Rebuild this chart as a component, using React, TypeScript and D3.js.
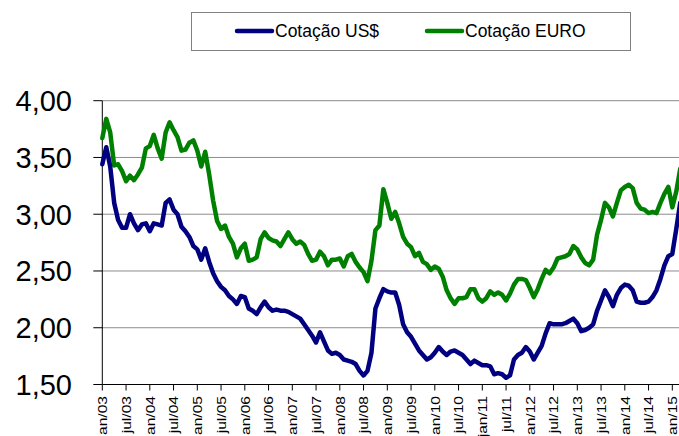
import { useRef, useEffect } from 'react';
import * as d3 from 'd3';

// ---------------------------------------------------------------------------
// Data (monthly, jan/03 .. mar/15)
// ---------------------------------------------------------------------------
const USD = [
  3.44, 3.59, 3.42, 3.10, 2.95, 2.88, 2.88, 3.00, 2.92, 2.86, 2.91, 2.92,
  2.85, 2.92, 2.91, 2.90, 3.10, 3.13, 3.04, 3.00, 2.89, 2.85, 2.80, 2.72,
  2.69, 2.60, 2.70, 2.58, 2.48, 2.41, 2.36, 2.33, 2.28, 2.25, 2.21, 2.28,
  2.27, 2.17, 2.15, 2.12, 2.18, 2.23, 2.18, 2.15, 2.16, 2.15, 2.15, 2.14,
  2.12, 2.10, 2.08, 2.03, 1.98, 1.93, 1.87, 1.96, 1.88, 1.80, 1.77, 1.78,
  1.76, 1.72, 1.71, 1.70, 1.68, 1.62, 1.58, 1.62, 1.78, 2.17, 2.26, 2.34,
  2.32, 2.31, 2.31, 2.20, 2.03, 1.96, 1.92, 1.86, 1.80, 1.76, 1.72, 1.74,
  1.78, 1.83, 1.79, 1.76, 1.79, 1.80, 1.78, 1.76, 1.72, 1.68, 1.71, 1.69,
  1.67, 1.67, 1.66, 1.59, 1.60, 1.59, 1.56, 1.58, 1.72, 1.76, 1.78, 1.83,
  1.79, 1.72, 1.78, 1.84, 1.95, 2.04, 2.03, 2.03, 2.03, 2.04, 2.06, 2.08,
  2.04, 1.97, 1.98, 2.00, 2.03, 2.15, 2.24, 2.33, 2.27, 2.19, 2.29, 2.35,
  2.38, 2.37, 2.33, 2.23, 2.22, 2.22, 2.23, 2.27, 2.33, 2.43, 2.55, 2.63,
  2.65, 2.87, 3.10,
];

const EURO = [
  3.67, 3.84, 3.72, 3.43, 3.44, 3.38, 3.29, 3.34, 3.30, 3.35, 3.41, 3.58,
  3.60, 3.70, 3.58, 3.49, 3.72, 3.81, 3.74, 3.68, 3.56, 3.57, 3.63, 3.65,
  3.56, 3.42, 3.55, 3.35, 3.12, 2.94, 2.87, 2.90, 2.80, 2.74, 2.62, 2.70,
  2.74, 2.59, 2.60, 2.62, 2.78, 2.84, 2.79, 2.77, 2.76, 2.72, 2.78, 2.84,
  2.78, 2.74, 2.76, 2.73, 2.65, 2.59, 2.60, 2.67, 2.63, 2.55, 2.60, 2.60,
  2.61, 2.54, 2.63, 2.65, 2.58, 2.53, 2.49, 2.41, 2.59, 2.86, 2.90, 3.22,
  3.10, 2.96, 3.02, 2.92, 2.80, 2.74, 2.71, 2.63, 2.66, 2.58, 2.56, 2.51,
  2.54, 2.52, 2.45, 2.33, 2.26, 2.21, 2.26, 2.26, 2.27, 2.34, 2.34, 2.26,
  2.23, 2.26, 2.32, 2.29, 2.31, 2.29, 2.24, 2.30, 2.38, 2.43, 2.43, 2.42,
  2.35, 2.27, 2.34, 2.43, 2.51, 2.48, 2.53, 2.61, 2.62, 2.63, 2.65, 2.72,
  2.69, 2.62, 2.57, 2.55, 2.60, 2.82, 2.95, 3.10, 3.06, 2.98, 3.10, 3.21,
  3.24, 3.26, 3.23, 3.10, 3.05, 3.04, 3.01, 3.02, 3.01, 3.10, 3.18, 3.24,
  3.06, 3.20, 3.40,
];

const X_LABELS = [
  'jan/03', 'jul/03', 'jan/04', 'jul/04', 'jan/05', 'jul/05', 'jan/06', 'jul/06',
  'jan/07', 'jul/07', 'jan/08', 'jul/08', 'jan/09', 'jul/09', 'jan/10', 'jul/10',
  'jan/11', 'jul/11', 'jan/12', 'jul/12', 'jan/13', 'jul/13', 'jan/14', 'jul/14',
  'jan/15',
];

const Y_TICKS = [1.5, 2.0, 2.5, 3.0, 3.5, 4.0];

const SERIES = [
  { name: 'Cotação US$', values: USD, color: '#000080' },
  { name: 'Cotação EURO', values: EURO, color: '#008000' },
];

const W = 679;
const H = 436;
const FONT = '"Liberation Sans", Arial, sans-serif';

export default function App() {
  const svgRef = useRef<SVGSVGElement>(null);

  useEffect(() => {
    document.body.style.margin = '0';
    const svg = svgRef.current;
    if (!svg) return;
    const sel = d3.select(svg);
    sel.selectAll('*').remove();

    const x = d3.scaleLinear().domain([0, 144]).range([102.3, 672.3]);
    const y = d3.scaleLinear().domain([1.5, 4]).range([384.5, 100.7]);
    const left = x(0);
    const right = W;

    // gridlines
    sel.append('g')
      .selectAll('line')
      .data(Y_TICKS.slice(1))
      .join('line')
      .attr('x1', left)
      .attr('x2', right)
      .attr('y1', (d) => y(d))
      .attr('y2', (d) => y(d))
      .attr('stroke', '#8c8c8c')
      .attr('stroke-width', 1);

    // y axis
    sel.append('line')
      .attr('x1', left).attr('x2', left)
      .attr('y1', y(4)).attr('y2', y(1.5))
      .attr('stroke', '#000');
    Y_TICKS.forEach((t) => {
      sel.append('line')
        .attr('x1', left - 9).attr('x2', left)
        .attr('y1', y(t)).attr('y2', y(t))
        .attr('stroke', '#000');
      sel.append('text')
        .attr('x', 72)
        .attr('y', y(t))
        .attr('dy', '0.36em')
        .attr('text-anchor', 'end')
        .attr('font-family', FONT)
        .attr('font-size', '29px')
        .attr('fill', '#000')
        .text(d3.format('.2f')(t).replace('.', ','));
    });

    // x axis
    sel.append('line')
      .attr('x1', left).attr('x2', right)
      .attr('y1', y(1.5)).attr('y2', y(1.5))
      .attr('stroke', '#000');
    X_LABELS.forEach((lab, i) => {
      const xp = x(i * 6);
      sel.append('line')
        .attr('x1', xp).attr('x2', xp)
        .attr('y1', y(1.5)).attr('y2', y(1.5) + 6)
        .attr('stroke', '#000');
      sel.append('text')
        .attr('transform', `translate(${xp + 0.5},${396}) rotate(-90) scale(1.3,1)`)
        .attr('dy', '0.35em')
        .attr('text-anchor', 'end')
        .attr('font-family', FONT)
        .attr('font-size', '12px')
        .attr('fill', '#000')
        .text(lab);
    });

    // lines (USD drawn on top)
    const line = d3.line<number>()
      .x((_, i) => x(i))
      .y((d) => y(d));
    [...SERIES].reverse().forEach((s) => {
      sel.append('path')
        .datum(s.values)
        .attr('d', line)
        .attr('fill', 'none')
        .attr('stroke', s.color)
        .attr('stroke-width', 4.5)
        .attr('stroke-linejoin', 'round')
        .attr('stroke-linecap', 'round');
    });

    // legend
    const lg = sel.append('g');
    lg.append('rect')
      .attr('x', 191.5).attr('y', 12.5)
      .attr('width', 439).attr('height', 38)
      .attr('fill', '#fff')
      .attr('stroke', '#808080');
    const items = [
      { x0: 237, tx: 275 },
      { x0: 427, tx: 465 },
    ];
    SERIES.forEach((s, i) => {
      lg.append('line')
        .attr('x1', items[i].x0).attr('x2', items[i].x0 + 35)
        .attr('y1', 31).attr('y2', 31)
        .attr('stroke', s.color)
        .attr('stroke-width', 4.5)
        .attr('stroke-linecap', 'round');
      lg.append('text')
        .attr('x', items[i].tx)
        .attr('y', 37)
        .attr('font-family', FONT)
        .attr('font-size', '17.5px')
        .attr('fill', '#000')
        .text(s.name);
    });
  }, []);

  return (
    <svg
      ref={svgRef}
      width={W}
      height={H}
      style={{ display: 'block', background: '#fff' }}
    />
  );
}
